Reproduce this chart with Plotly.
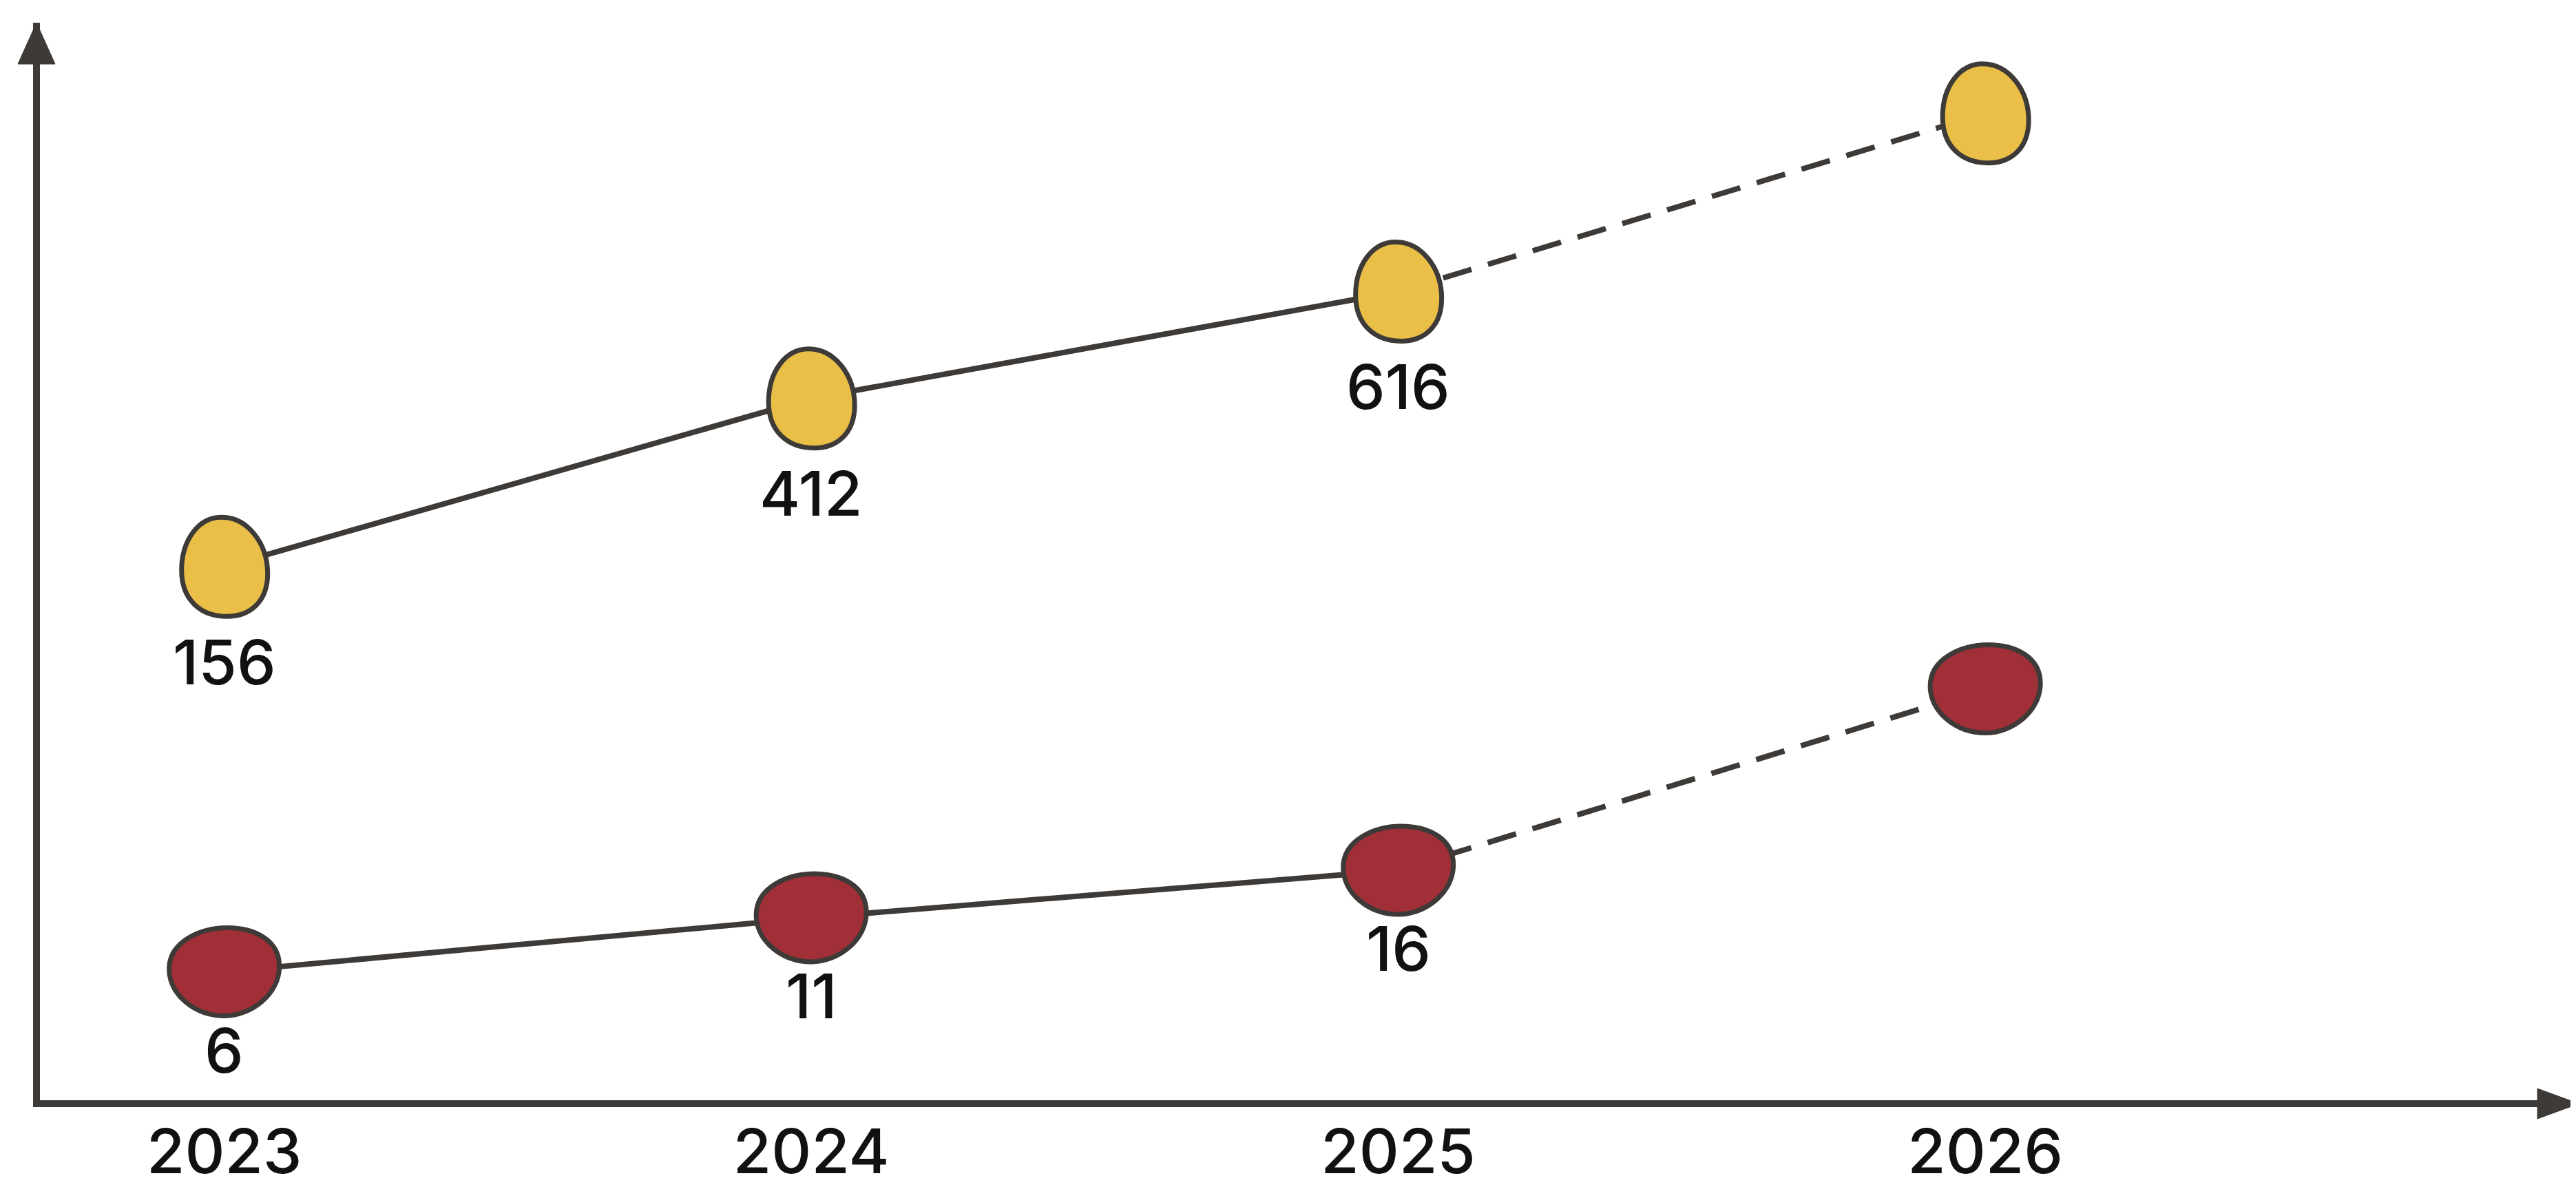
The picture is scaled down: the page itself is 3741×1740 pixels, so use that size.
import plotly.graph_objects as go

# Years on the horizontal axis
years = [2023, 2024, 2025, 2026]

# Labels printed under the points (2026 has no label)
top_labels = ["156", "412", "616", ""]
bottom_labels = ["6", "11", "16", ""]

# Height of each point on the chart (0 = x axis, 100 = top of y arrow)
top_levels = [49.6, 65.2, 75.1, 91.6]
bottom_levels = [12.1, 17.1, 21.5, 38.3]

# Colours
YELLOW = "#E9BF48"
RED = "#A12F37"
INK = "#3d3a37"
TEXT = "#111111"
FONT = "Inter"

# Hand-drawn looking point outlines, in pixels around the point (y up)
EGG = ("M -4,72 C 34,72 63,34 63,-10 C 63,-50 38,-72 4,-72 "
       "C -34,-72 -62,-48 -62,-5 C -62,38 -38,72 -4,72 Z")
BLOB = ("M -80,4 C -80,44 -34,64 4,64 C 44,64 80,46 80,8 "
        "C 80,-32 40,-64 0,-64 C -42,-64 -80,-34 -80,4 Z")

fig = go.Figure()

# Connecting lines: solid for known years, dashed for the last step
for levels in [top_levels, bottom_levels]:
    fig.add_trace(go.Scatter(
        x=years[:3], y=levels[:3], mode="lines",
        line=dict(color=INK, width=8), hoverinfo="skip"
    ))
    fig.add_trace(go.Scatter(
        x=years[2:], y=levels[2:], mode="lines",
        line=dict(color=INK, width=8, dash="43px,25px"), hoverinfo="skip"
    ))

# Point shapes anchored at the data values
shapes = []
for levels, color, path in [(top_levels, YELLOW, EGG), (bottom_levels, RED, BLOB)]:
    for yr, lv in zip(years, levels):
        shapes.append(dict(
            type="path", xref="x", yref="y",
            xsizemode="pixel", ysizemode="pixel",
            xanchor=yr, yanchor=lv, path=path,
            fillcolor=color, line=dict(color=INK, width=7), layer="above"
        ))

# Arrow heads on the axes
shapes.append(dict(
    type="path", xref="paper", yref="paper",
    xsizemode="pixel", ysizemode="pixel", xanchor=1, yanchor=0,
    path="M -60,-27 L 0,-5 L -60,17 Z",
    fillcolor=INK, line=dict(color=INK, width=1)
))
shapes.append(dict(
    type="path", xref="paper", yref="paper",
    xsizemode="pixel", ysizemode="pixel", xanchor=0, yanchor=1,
    path="M -32,-60 L -5,0 L 22,-60 Z",
    fillcolor=INK, line=dict(color=INK, width=1)
))

# Value labels under the points
annotations = []
for levels, labels, shift in [(top_levels, top_labels, -138), (bottom_levels, bottom_labels, -114)]:
    for yr, lv, lab in zip(years, levels, labels):
        if lab:
            annotations.append(dict(
                x=yr, y=lv, xref="x", yref="y", text=lab, showarrow=False,
                yshift=shift, yanchor="middle",
                font=dict(family=FONT, size=90, color=TEXT, weight=500)
            ))

fig.update_layout(
    width=3741, height=1740,
    margin=dict(l=50, r=4, t=25, b=150),
    paper_bgcolor="white", plot_bgcolor="white",
    showlegend=False,
    shapes=shapes,
    annotations=annotations,
    xaxis=dict(
        range=[2022.686, 2027.011],
        tickvals=years, ticktext=[str(y) for y in years],
        tickfont=dict(family=FONT, size=90, color=TEXT, weight=500),
        ticks="", ticklabelstandoff=-12,
        showgrid=False, zeroline=False,
        showline=True, linecolor=INK, linewidth=10
    ),
    yaxis=dict(
        range=[0.2, 100], showticklabels=False, ticks="",
        showgrid=False, zeroline=False,
        showline=True, linecolor=INK, linewidth=10
    )
)

fig.write_html("out.html")
